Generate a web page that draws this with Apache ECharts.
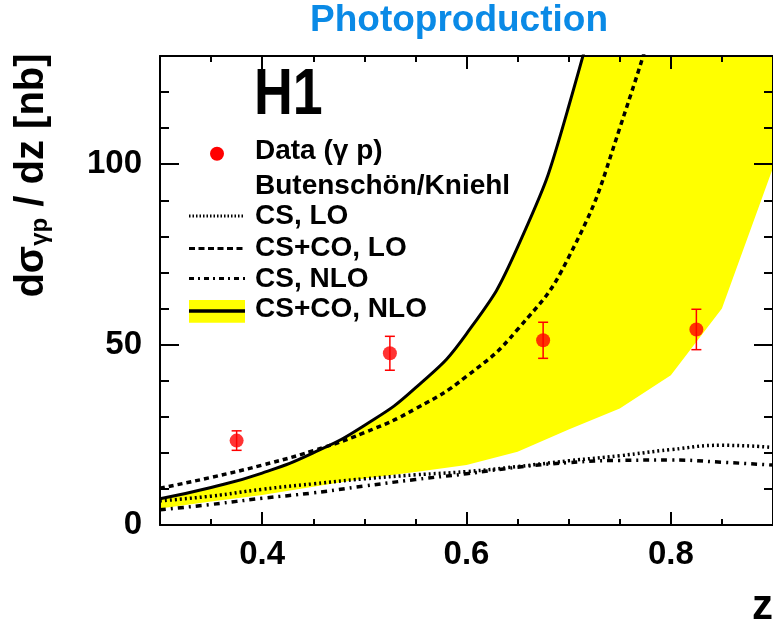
<!DOCTYPE html>
<html><head><meta charset="utf-8">
<script src="https://cdn.jsdelivr.net/npm/echarts@6/dist/echarts.min.js"></script>
<style>html,body{margin:0;padding:0;background:#fff}#c{width:773px;height:627px}</style>
</head><body><div id="c"></div>
<script>
// ---- data ----
const zGrid   = [0.30,0.35,0.40,0.45,0.50,0.55,0.60,0.65,0.70,0.75,0.80,0.85,0.90];
const csLO    = [6.7,8.0,9.9,11.4,12.8,13.9,14.8,16.2,17.8,19.2,20.9,22.1,21.5];
const csNLO   = [4.2,5.7,7.4,8.9,10.8,12.6,14.2,16.0,17.3,17.9,18.0,17.4,16.6];
const cscoLO  = [10.2,13.2,16.6,20.6,25.6,32.2,41.2,54.2,74.2,110,160,230,330];
const cscoNLO = [7.3,10.4,14.4,20.0,27.6,38.0,53.0,77,116,176,265,400,600];
const bandLow = [4.6,6.5,8.3,10.6,12.9,14.7,16.6,20.3,26.5,32.3,41.5,60,99];
const dataZ   = [0.375,0.525,0.675,0.825];
const dataY   = [23.4,47.6,51.2,54.2];
const dataErr = [2.7,4.7,5.0,5.6];
const xLabels = [0.4,0.6,0.8];
const yLabels = [0,50,100];

const FONT = '"Liberation Sans", Arial, Helvetica, sans-serif';
const pairs = arr => zGrid.map((z,i)=>[z, arr[i]]);
const chart = echarts.init(document.getElementById('c'), null, {renderer:'canvas'});

const labelStyle = {fontSize:33, fontWeight:'bold', fontFamily:FONT, color:'#000'};
function xAx(pos, major){
  return {type:'value', min:0.3, max:0.9, position:pos, z:10,
    interval: major ? undefined : 0.05,
    axisLine:{show:major, onZero:false, lineStyle:{color:'#000', width:2}},
    axisTick: major ? {show:true, inside:true, length:13, customValues:xLabels, lineStyle:{color:'#000', width:2}}
                    : {show:true, inside:true, length:6, lineStyle:{color:'#000', width:2}},
    axisLabel: (major && pos==='bottom') ? Object.assign({show:true, margin:13, customValues:xLabels, formatter:v=>v.toFixed(1)}, labelStyle) : {show:false},
    splitLine:{show:false}};
}
function yAx(pos, major){
  return {type:'value', min:0, max:130, position:pos, z:10,
    interval: major ? undefined : 10,
    axisLine:{show:major, onZero:false, lineStyle:{color:'#000', width:2}},
    axisTick: major ? {show:true, inside:true, length:19, customValues:yLabels, lineStyle:{color:'#000', width:2}}
                    : {show:true, inside:true, length:9, lineStyle:{color:'#000', width:2}},
    axisLabel: (major && pos==='left') ? Object.assign({show:true, margin:18, customValues:yLabels}, labelStyle) : {show:false},
    splitLine:{show:false}};
}

const legendRows = [
  {y:150.8, text:'Data (\u03b3 p)'},
  {y:186.7, text:'Butensch\u00f6n/Kniehl'},
  {y:215.8, text:'CS, LO'},
  {y:248.2, text:'CS+CO, LO'},
  {y:279.2, text:'CS, NLO'},
  {y:309.2, text:'CS+CO, NLO'}
];
const graphics = [
  {type:'text', x:459, y:21, style:{text:'Photoproduction', font:'bold 37px '+FONT, fill:'#0a8ae6', align:'center', verticalAlign:'middle'}},
  {type:'text', x:254, y:96, scaleX:0.84, style:{text:'H1', font:'bold 64px '+FONT, fill:'#000', align:'left', verticalAlign:'middle'}},
  {type:'circle', shape:{cx:217, cy:153.7, r:7}, style:{fill:'#ff0000'}},
  {type:'line', shape:{x1:189, y1:216, x2:245, y2:216}, style:{stroke:'#000', lineWidth:3, lineDash:[1.5,2]}},
  {type:'line', shape:{x1:189, y1:248.5, x2:245, y2:248.5}, style:{stroke:'#000', lineWidth:3, lineDash:[6,3.5]}},
  {type:'line', shape:{x1:189, y1:278.5, x2:245, y2:278.5}, style:{stroke:'#000', lineWidth:3, lineDash:[5,4,2,4]}},
  {type:'rect', shape:{x:189, y:300, width:56, height:22.7}, style:{fill:'#ffff00'}},
  {type:'line', shape:{x1:189, y1:311, x2:245, y2:311}, style:{stroke:'#000', lineWidth:3.5}},
  {type:'text', x:32, y:175.5, rotation:Math.PI/2, style:{
    text:'{a|d\u03c3}{s|\u03b3p}{a| / dz [nb]}', fill:'#000', align:'center', verticalAlign:'middle',
    rich:{a:{fontSize:40, fontWeight:'bold', fontFamily:FONT, lineHeight:40, fill:'#000'},
          s:{fontSize:24, fontWeight:'bold', fontFamily:FONT, lineHeight:18, verticalAlign:'bottom', fill:'#000'}}}},
  {type:'text', x:773, y:607.5, style:{text:'z', font:'bold 42px '+FONT, fill:'#000', align:'right', verticalAlign:'middle'}}
];
legendRows.forEach(r=>graphics.push({type:'text', x:255, y:r.y, style:{text:r.text, font:'bold 28px '+FONT, fill:'#000', align:'left', verticalAlign:'middle'}}));

const lineBase = {type:'line', symbol:'none', xAxisIndex:0, yAxisIndex:0, silent:true, clip:true};
chart.setOption({
  animation:false,
  backgroundColor:'#fff',
  grid:{left:160, top:56, width:614, height:469, containLabel:false, show:false},
  xAxis:[xAx('bottom',true), xAx('bottom',false), xAx('top',true), xAx('top',false)],
  yAxis:[yAx('left',true), yAx('left',false), yAx('right',true), yAx('right',false)],
  graphic:graphics,
  series:[
    Object.assign({}, lineBase, {name:'bandUpper', data:pairs(cscoNLO), smooth:0.5, z:1,
      lineStyle:{width:0, opacity:0}, areaStyle:{color:'#ffff00', opacity:1}}),
    Object.assign({}, lineBase, {name:'bandLower', data:pairs(bandLow), smooth:false, z:1,
      lineStyle:{width:0, opacity:0}, areaStyle:{color:'#ffffff', opacity:1}}),
    Object.assign({}, lineBase, {name:'CS, LO', data:pairs(csLO), smooth:0.5, z:3,
      lineStyle:{color:'#000', width:3.5, type:[2,3]}}),
    Object.assign({}, lineBase, {name:'CS, NLO', data:pairs(csNLO), smooth:0.5, z:3,
      lineStyle:{color:'#000', width:3.5, type:[6,5,2,5]}}),
    Object.assign({}, lineBase, {name:'CS+CO, LO', data:pairs(cscoLO), smooth:0.5, z:3,
      lineStyle:{color:'#000', width:3.5, type:[5,4]}}),
    Object.assign({}, lineBase, {name:'CS+CO, NLO', data:pairs(cscoNLO), smooth:0.5, z:3,
      lineStyle:{color:'#000', width:3}}),
    {type:'custom', name:'err', xAxisIndex:0, yAxisIndex:0, z:4, silent:true,
      data:dataZ.map((z,i)=>[z, dataY[i]-dataErr[i], dataY[i]+dataErr[i]]),
      encode:{x:0, y:[1,2]},
      renderItem:(params, api)=>{
        const x = api.value(0);
        const lo = api.coord([x, api.value(1)]);
        const hi = api.coord([x, api.value(2)]);
        const w = 5, st = {stroke:'#ff0000', lineWidth:1.5};
        return {type:'group', children:[
          {type:'line', shape:{x1:lo[0], y1:lo[1], x2:hi[0], y2:hi[1]}, style:st},
          {type:'line', shape:{x1:lo[0]-w, y1:lo[1], x2:lo[0]+w, y2:lo[1]}, style:st},
          {type:'line', shape:{x1:hi[0]-w, y1:hi[1], x2:hi[0]+w, y2:hi[1]}, style:st}
        ]};
      }},
    {type:'scatter', name:'Data', xAxisIndex:0, yAxisIndex:0, z:5, silent:true,
      data:dataZ.map((z,i)=>[z, dataY[i]]), symbol:'circle', symbolSize:14,
      itemStyle:{color:'#ff0000'}}
  ]
});
</script></body></html>
